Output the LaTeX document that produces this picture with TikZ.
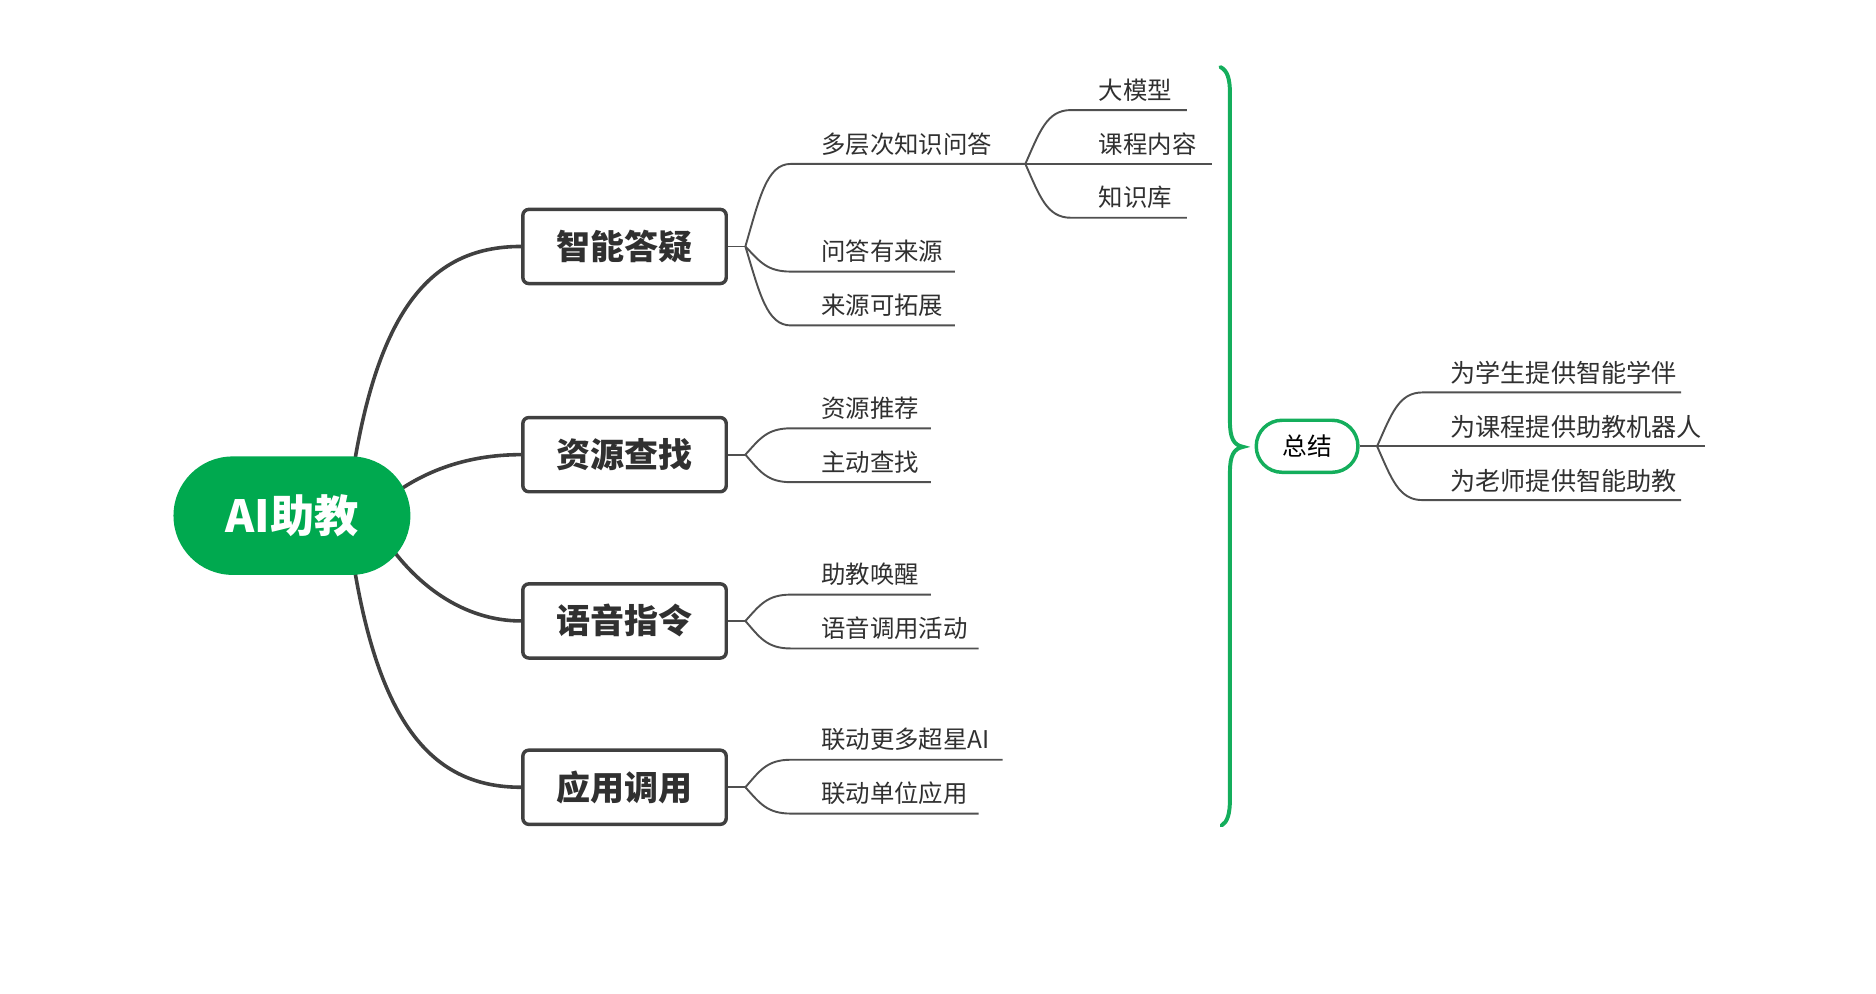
\documentclass[tikz,border=0pt]{standalone}
\usepackage{fontspec}
\newfontfamily\cjk{Noto Sans CJK SC}
\usetikzlibrary{calc}
\definecolor{mygreen}{HTML}{00A94F}
\definecolor{lgreen}{HTML}{14AE5C}
\definecolor{dgray}{HTML}{404040}
\definecolor{tgray}{HTML}{303030}
\definecolor{lgray}{HTML}{505050}
\pgfdeclarelayer{bg}
\pgfsetlayers{bg,main}
\newcommand\forkto[2]{\draw[thinln] (#1) .. controls ($(#1)!0.6!(#1|-#2)+(12,0)$) and ($(#1|-#2)+(18,0)$) .. ($(#1|-#2)+(38,0)$) -- (#2);}
\begin{document}
\begin{tikzpicture}[x=0.5pt,y=-0.5pt,
  rootnode/.style={rectangle, rounded corners=24.7pt, fill=mygreen, minimum width=99pt, minimum height=49.5pt, text=white, inner sep=0pt, font=\cjk\bfseries\fontsize{18.5}{20}\selectfont},
  boxnode/.style={rectangle, draw=dgray, line width=1.45pt, rounded corners=2.5pt, fill=white, minimum width=85pt, minimum height=31pt, inner sep=0pt, text=tgray, font=\cjk\bfseries\fontsize{14.2}{16}\selectfont},
  sumnode/.style={rectangle, draw=lgreen, line width=1.45pt, rounded corners=10.8pt, fill=white, minimum width=42.5pt, minimum height=21.75pt, inner sep=0pt, text=black, font=\cjk\fontsize{10.3}{12}\selectfont},
  leaf/.style={anchor=base west, inner sep=0pt, text=tgray, font=\cjk\fontsize{10.2}{12}\selectfont},
  sleaf/.style={anchor=base west, inner sep=0pt, text=tgray, font=\cjk\fontsize{10.5}{13}\selectfont},
  thickln/.style={draw=dgray, line width=1.5pt},
  thinln/.style={draw=lgray, line width=0.8pt},
  bracestyle/.style={draw=lgreen, line width=1.65pt, line cap=round}
]
\useasboundingbox (0,0) rectangle (1568,830);

% main nodes
\node[rootnode] (root) at (244,431) {AI助教};
\node[boxnode] (b1) at (522,206) {智能答疑};
\node[boxnode] (b2) at (522,380) {资源查找};
\node[boxnode] (b3) at (522,519) {语音指令};
\node[boxnode] (b4) at (522,658) {应用调用};

% fork points
\coordinate (f1) at (623,206);
\coordinate (f2) at (623,380);
\coordinate (f3) at (623,519);
\coordinate (f4) at (623,658);
\coordinate (f11) at (857,137);

% leaves of b1
\node[leaf] (l11) at (686,128) {多层次知识问答};
\node[leaf] (l111) at (918,83) {大模型};
\node[leaf] (l112) at (918,128) {课程内容};
\node[leaf] (l113) at (918,173) {知识库};
\node[leaf] (l12) at (686,218) {问答有来源};
\node[leaf] (l13) at (686,263) {来源可拓展};
% leaves of b2
\node[leaf] (l21) at (686,349) {资源推荐};
\node[leaf] (l22) at (686,394) {主动查找};
% leaves of b3
\node[leaf] (l31) at (686,488) {助教唤醒};
\node[leaf] (l32) at (686,533) {语音调用活动};
% leaves of b4
\node[leaf] (l41) at (686,626) {联动更多超星AI};
\node[leaf] (l42) at (686,671) {联动单位应用};

% underline ends
\coordinate (e111) at (992,92);
\coordinate (e112) at (1013,137);
\coordinate (e113) at (992,182);
\coordinate (e12) at (798,227);
\coordinate (e13) at (798,272);
\coordinate (e21) at (778,358);
\coordinate (e22) at (778,403);
\coordinate (e31) at (778,497);
\coordinate (e32) at (818,542);
\coordinate (e41) at (838,635);
\coordinate (e42) at (818,680);

% summary
\node[sumnode] (sum) at (1092.5,373) {总结};
\coordinate (fs) at (1151,373);
\node[sleaf] (s1) at (1212,320) {为学生提供智能学伴};
\node[sleaf] (s2) at (1212,365) {为课程提供助教机器人};
\node[sleaf] (s3) at (1212,410) {为老师提供智能助教};
\coordinate (es1) at (1405,328);
\coordinate (es2) at (1425,373);
\coordinate (es3) at (1405,418);

% brace
\coordinate (btop) at (1020,56);
\coordinate (btip) at (1039,373.5);
\coordinate (bbot) at (1021,690);
\draw[bracestyle] (btop) .. controls (1026,59) and (1028,66) .. (1028,78) -- (1028,352)
  .. controls (1028,366) and (1031,372) .. (btip)
  .. controls (1031,375) and (1028,381) .. (1028,395) -- (1028,668)
  .. controls (1028,680) and (1026,687) .. (bbot);

\begin{pgfonlayer}{bg}
  % root connectors
  \draw[thickln] ($(root.center)+(46,0)$) .. controls ($(root.center)+(66,-171)$) and ($(b1.west)+(-77,0)$) .. (b1.west);
  \draw[thickln] ($(root.center)+(76,-11)$) .. controls ($(root.center)+(106,-36)$) and ($(b2.west)+(-47,0)$) .. (b2.west);
  \draw[thickln] ($(root.center)+(71,9)$) .. controls ($(root.center)+(101,59)$) and ($(b3.west)+(-47,0)$) .. (b3.west);
  \draw[thickln] ($(root.center)+(46,0)$) .. controls ($(root.center)+(66,171)$) and ($(b4.west)+(-77,0)$) .. (b4.west);
  % box to forks
  \draw[thinln] (b1.east) -- (f1);
  \draw[thinln] (b2.east) -- (f2);
  \draw[thinln] (b3.east) -- (f3);
  \draw[thinln] (b4.east) -- (f4);
  \draw[thinln] (sum.east) -- (fs);
  % branches
  \forkto{f1}{f11}
  \forkto{f11}{e111}
  \forkto{f11}{e112}
  \forkto{f11}{e113}
  \forkto{f1}{e12}
  \forkto{f1}{e13}
  \forkto{f2}{e21}
  \forkto{f2}{e22}
  \forkto{f3}{e31}
  \forkto{f3}{e32}
  \forkto{f4}{e41}
  \forkto{f4}{e42}
  \forkto{fs}{es1}
  \forkto{fs}{es2}
  \forkto{fs}{es3}
\end{pgfonlayer}
\end{tikzpicture}
\end{document}
